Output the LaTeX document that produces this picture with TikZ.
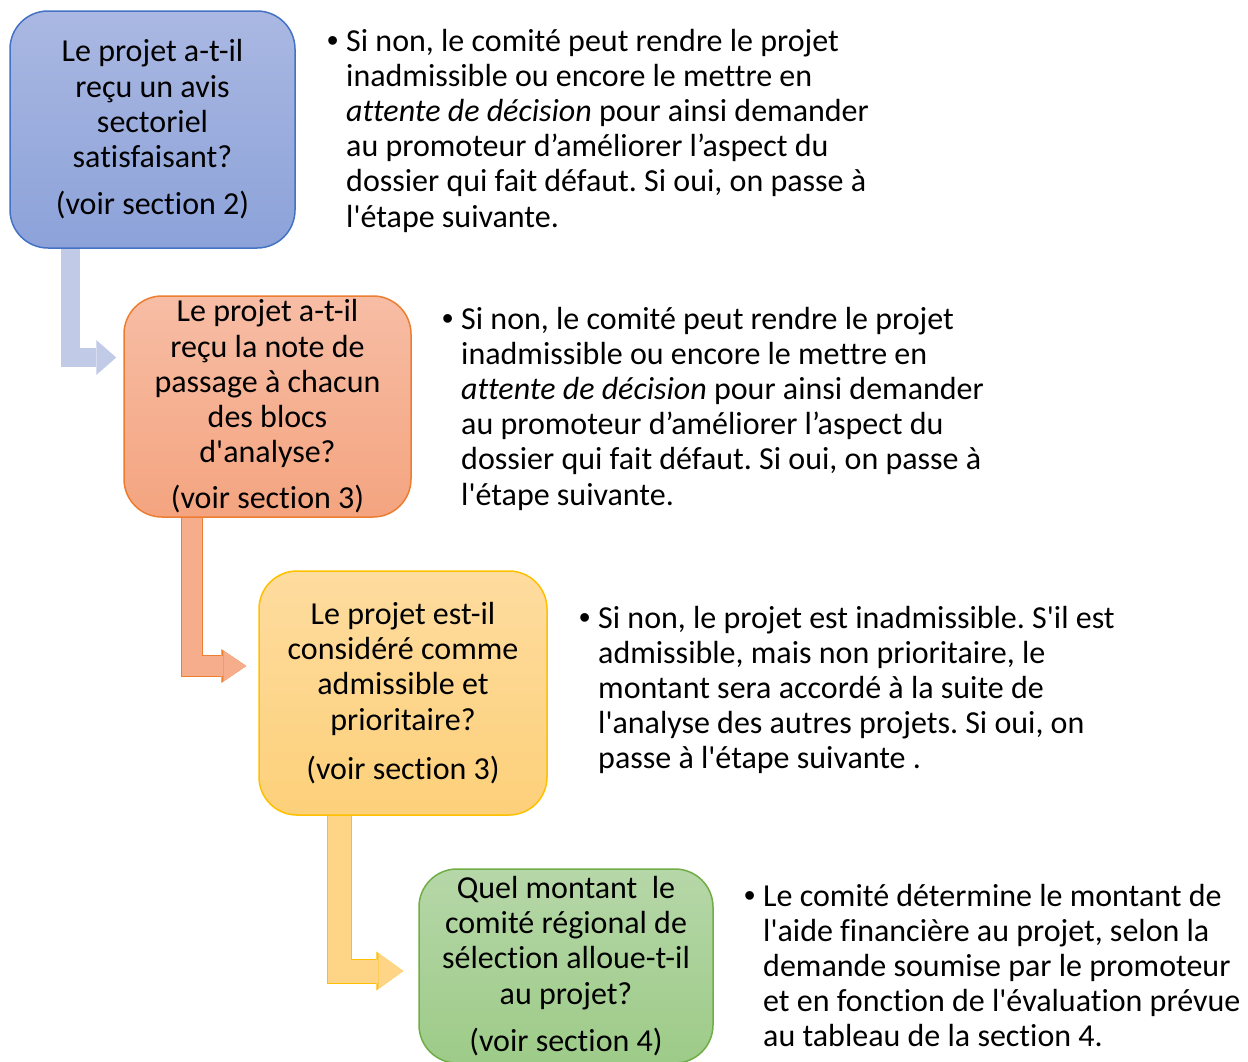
\documentclass[tikz,border=0pt]{standalone}
\usepackage{fontspec}
\newfontfamily\calibri{Carlito}[Ligatures=NoCommon]
\newfontfamily\arialfont{Liberation Sans}
\usetikzlibrary{arrows.meta, positioning, calc}
\frenchspacing

\definecolor{blueline}{HTML}{4472C4}
\definecolor{bluetop}{HTML}{AAB8E2}
\definecolor{bluebot}{HTML}{8CA2D9}
\definecolor{bluearrow}{HTML}{C1CBE7}
\definecolor{orangeline}{HTML}{ED7D31}
\definecolor{orangetop}{HTML}{F7BDA5}
\definecolor{orangebot}{HTML}{F4A47F}
\definecolor{orangearrow}{HTML}{F5AD8C}
\definecolor{goldline}{HTML}{FFC000}
\definecolor{goldtop}{HTML}{FEDC9F}
\definecolor{goldbot}{HTML}{FDD07A}
\definecolor{goldarrow}{HTML}{FED486}
\definecolor{greenline}{HTML}{70AD47}
\definecolor{greentop}{HTML}{B6D7A8}
\definecolor{greenbot}{HTML}{9DCB88}

\newcommand{\puce}{{\arialfont •}}

\begin{document}
\begin{tikzpicture}
        [x=1pt, y=-1pt,
        every node/.style={font=\calibri\fontsize{32}{35.2}\selectfont},
        question/.style={rectangle, rounded corners=38pt,
        draw=#1line, line width=1.5pt,
        top color=#1top, bottom color=#1bot,
        align=center, inner sep=0pt},
        note/.style={anchor=base west, inner sep=0pt},
        flow/.style={line join=miter, line cap=butt}
        ]
        \useasboundingbox (0,0) rectangle (1248,1061);
        % questions
        \node [question=blue, minimum width=285pt, minimum height=237pt] (q1) at (152.5,129.5)
            {Le projet a-t-il\\reçu un avis\\sectoriel\\satisfaisant?\\[12pt](voir section 2)};
        \node [question=orange, minimum width=287pt, minimum height=221pt] (q2) at (267.5,406.5)
            {Le projet a-t-il\\reçu la note de\\passage à chacun\\des blocs\\d'analyse?\\[11pt](voir section 3)};
        \node [question=gold, minimum width=288pt, minimum height=244pt] (q3) at (403,693)
            {Le projet est-il\\considéré comme\\admissible et\\prioritaire?\\[14pt](voir section 3)};
        \node [question=green, minimum width=294pt, minimum height=194pt] (q4) at (566,966)
            {Quel montant\ \ le\\comité régional de\\sélection alloue-t-il\\au projet?\\[12pt](voir section 4)};
        % notes
        \node [note] (n1) at (327,51) {\begin{tabular}[t]{@{}p{19pt}@{}l@{}}
            \puce & Si non, le comité peut rendre le projet\\
              & inadmissible ou encore le mettre en\\
              & \textit{attente de décision} pour ainsi demander\\
              & au promoteur d’améliorer l’aspect du\\
              & dossier qui fait défaut. Si oui, on passe à\\
              & l'étape suivante.
            \end{tabular}};
        \node [note] (n2) at (442,329) {\begin{tabular}[t]{@{}p{19pt}@{}l@{}}
            \puce & Si non, le comité peut rendre le projet\\
              & inadmissible ou encore le mettre en\\
              & \textit{attente de décision} pour ainsi demander\\
              & au promoteur d’améliorer l’aspect du\\
              & dossier qui fait défaut. Si oui, on passe à\\
              & l'étape suivante.
            \end{tabular}};
        \node [note] (n3) at (579,628) {\begin{tabular}[t]{@{}p{19pt}@{}l@{}}
            \puce & Si non, le projet est inadmissible. S'il est\\
              & admissible, mais non prioritaire, le\\
              & montant sera accordé à la suite de\\
              & l'analyse des autres projets. Si oui, on\\
              & passe à l'étape suivante .
            \end{tabular}};
        \node [note] (n4) at (744,906) {\begin{tabular}[t]{@{}p{19pt}@{}l@{}}
            \puce & Le comité détermine le montant de\\
              & l'aide financière au projet, selon la\\
              & demande soumise par le promoteur\\
              & et en fonction de l'évaluation prévue\\
              & au tableau de la section 4.
            \end{tabular}};
        % bent arrows
        \begin{scope}[every path/.style=flow]
            \path [draw=bluearrow, line width=19pt,
                -{Triangle[length=20pt, width=35pt, line width=0pt]}]
                ([xshift=61pt]q1.south west) |- ([xshift=-7pt, yshift=49pt]q2.west);
            \path [draw=orangearrow, line width=20pt,
                -{Triangle[length=23pt, width=31pt, line width=0pt]},
                preaction={draw=orangeline, line width=22pt,
                -{Triangle[length=25pt, width=34pt, line width=0pt]}}]
                ([xshift=68.5pt]q2.south west) |- ([xshift=-12pt, yshift=27pt]q3.west);
            \path [draw=goldarrow, line width=23pt,
                -{Triangle[length=25pt, width=36pt, line width=0pt]},
                preaction={draw=goldline, line width=25pt,
                -{Triangle[length=27pt, width=39pt, line width=0pt]}}]
                ([xshift=81.5pt]q3.south west) |- ([xshift=-15pt, yshift=-5pt]q4.west);
        \end{scope}
    \end{tikzpicture}
\end{document}
